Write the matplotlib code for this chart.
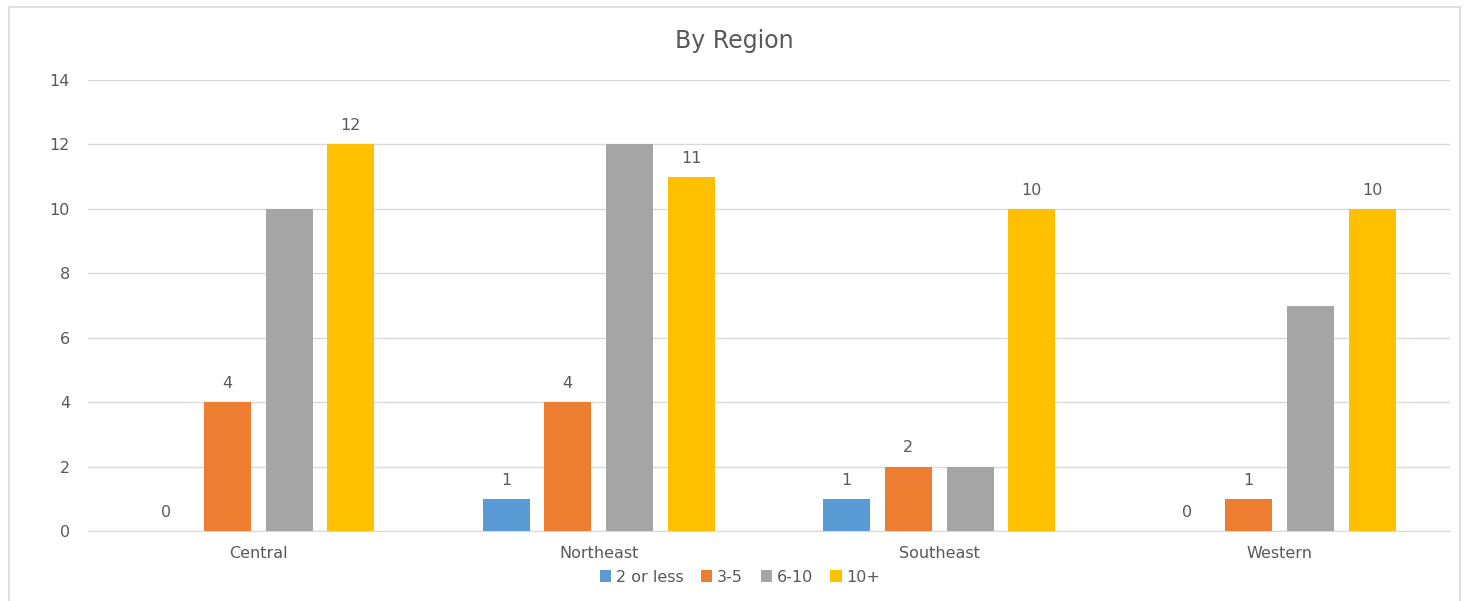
import numpy as np
from matplotlib import pyplot as plt
from matplotlib.patches import Rectangle

plt.rcParams['font.family'] = ['DejaVu Sans']

regions = ['Central', 'Northeast', 'Southeast', 'Western']
series = ['2 or less', '3-5', '6-10', '10+']
values = {
    '2 or less': [0, 1, 1, 0],
    '3-5': [4, 4, 2, 1],
    '6-10': [10, 12, 2, 7],
    '10+': [12, 11, 10, 10],
}
show_labels = {'2 or less': True, '3-5': True, '6-10': False, '10+': True}
colors = ['#5B9BD5', '#ED7D31', '#A5A5A5', '#FFC000']
text_color = '#595959'

fig = plt.figure(figsize=(14.68, 6.01), dpi=100)
# chart border
fig.patches.append(Rectangle((9 / 1468, -0.01), 1451 / 1468, 1 - 7 / 601 + 0.01,
                             transform=fig.transFigure, fill=False,
                             edgecolor='#D9D9D9', linewidth=1.2))
ax = fig.add_axes([88 / 1468, 1 - 531 / 601, (1450 - 88) / 1468, (531 - 80) / 601])

x = np.arange(len(regions))
width = 0.138
offsets = [-0.272, -0.091, 0.091, 0.272]

for name, off, c in zip(series, offsets, colors):
    bars = ax.bar(x + off, values[name], width, color=c, label=name, zorder=3)
    if show_labels[name]:
        for b, v in zip(bars, values[name]):
            ax.annotate(str(v), (b.get_x() + b.get_width() / 2, v),
                        xytext=(0, 8), textcoords='offset points',
                        ha='center', va='bottom', fontsize=11.5, color=text_color)

ax.set_xlim(-0.5, len(regions) - 0.5)
ax.set_ylim(0, 14)
ax.set_yticks(range(0, 15, 2))
ax.set_xticks(x)
ax.set_xticklabels(regions)
ax.grid(axis='y', color='#D9D9D9', linewidth=1, zorder=0)
for s in ax.spines.values():
    s.set_visible(False)
ax.spines['bottom'].set_visible(True)
ax.spines['bottom'].set_color('#D9D9D9')
ax.tick_params(axis='both', length=0, labelsize=11.5, labelcolor=text_color)
ax.tick_params(axis='y', pad=13)
ax.tick_params(axis='x', pad=11)

fig.text(0.5, 1 - 41 / 601, 'By Region', ha='center', va='center',
         fontsize=17, color=text_color)
fig.legend(loc='center', bbox_to_anchor=(740 / 1468, 1 - 577 / 601), ncol=4,
           frameon=False, fontsize=11.5, labelcolor=text_color,
           handlelength=0.7, handleheight=0.7, handletextpad=0.3, columnspacing=1.1)

fig.savefig('out.png', dpi=100)
